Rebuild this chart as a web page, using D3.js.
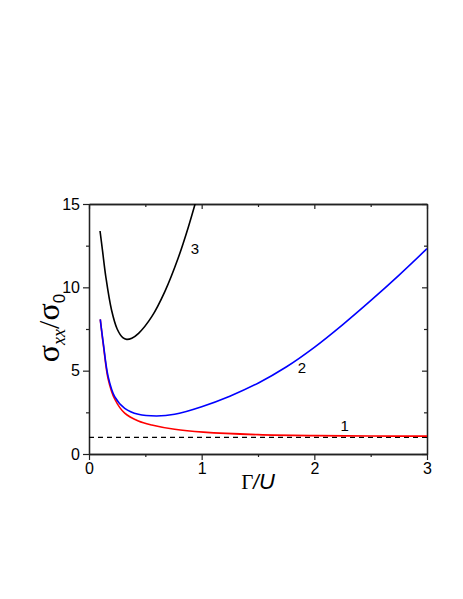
<!DOCTYPE html>
<html><head><meta charset="utf-8">
<script src="https://cdn.jsdelivr.net/npm/d3@7"></script>
<style>body{margin:0;background:#fff}</style>
</head><body>
<svg id="c" width="463" height="599"></svg>
<script>
const xTicks = [0, 1, 2, 3];
const yTicks = [0, 5, 10, 15];
const xMinor = [0.5, 1.5, 2.5];
const yMinor = [2.5, 7.5, 12.5];

const curve1X = [0.1, 0.13, 0.17, 0.228, 0.317, 0.438, 0.557, 0.76, 1.015, 1.5, 2.02, 2.5, 3.0];
const curve1Y = [8.08, 6.4, 4.5, 3.3, 2.45, 1.98, 1.74, 1.48, 1.31, 1.16, 1.10, 1.08, 1.07];

const curve2X = [0.1, 0.127, 0.17, 0.228, 0.317, 0.438, 0.6, 0.76, 1.0, 1.25, 1.5, 1.75, 2.0, 2.25, 2.5, 2.75, 3.0];
const curve2Y = [8.08, 6.64, 4.64, 3.44, 2.74, 2.38, 2.28, 2.38, 2.84, 3.47, 4.25, 5.22, 6.4, 7.75, 9.2, 10.72, 12.32];

const curve3X = [0.098, 0.12, 0.15, 0.2, 0.25, 0.3, 0.335, 0.38, 0.44, 0.557, 0.674, 0.79, 0.88, 0.95];
const curve3Y = [13.38, 12.2, 10.6, 8.64, 7.5, 6.98, 6.88, 6.95, 7.24, 8.24, 9.76, 11.73, 13.58, 15.2];

const refX = [0, 3];
const refY = [1, 1];

const labelText = ["1", "2", "3"];
const labelX = [2.27, 1.89, 0.94];
const labelY = [1.64, 5.1, 12.25];

const svg = d3.select("#c");
const L = 89, R = 427, T = 204, B = 454;
const x = d3.scaleLinear().domain([0, 3]).range([L, R]);
const y = d3.scaleLinear().domain([0, 15]).range([B, T]);

const axisColor = "#222";
const font = "'Liberation Sans', Arial, sans-serif";
const serif = "'Liberation Serif', 'Times New Roman', serif";

svg.append("defs").append("clipPath").attr("id", "clip")
  .append("rect").attr("x", L).attr("y", T).attr("width", R - L).attr("height", B - T);

function styleAxis(g) {
  g.select(".domain").attr("stroke", axisColor).attr("stroke-width", 1.3);
  g.selectAll(".tick line").attr("stroke", axisColor).attr("stroke-width", 1.2);
  g.selectAll(".tick text").attr("font-family", font).attr("font-size", 16).attr("fill", "#000");
}
svg.append("g").attr("transform", `translate(0,${B})`)
  .call(d3.axisBottom(x).tickValues(xTicks).tickFormat(d3.format("d")).tickSizeOuter(0).tickSizeInner(6).tickPadding(3)).call(styleAxis);
svg.append("g").attr("transform", `translate(0,${B})`)
  .call(d3.axisBottom(x).tickValues(xMinor).tickFormat("").tickSizeOuter(0).tickSizeInner(3)).call(styleAxis);
svg.append("g").attr("transform", `translate(${L},0)`)
  .call(d3.axisLeft(y).tickValues(yTicks).tickFormat(d3.format("d")).tickSizeOuter(0).tickSizeInner(6).tickPadding(3)).call(styleAxis);
svg.append("g").attr("transform", `translate(${L},0)`)
  .call(d3.axisLeft(y).tickValues(yMinor).tickFormat("").tickSizeOuter(0).tickSizeInner(3)).call(styleAxis);
svg.append("g").attr("transform", `translate(0,${T})`)
  .call(d3.axisTop(x).tickValues(xTicks).tickFormat("").tickSizeOuter(0).tickSizeInner(-5)).call(styleAxis);
svg.append("g").attr("transform", `translate(0,${T})`)
  .call(d3.axisTop(x).tickValues(xMinor).tickFormat("").tickSizeOuter(0).tickSizeInner(-3)).call(styleAxis);
svg.append("g").attr("transform", `translate(${R},0)`)
  .call(d3.axisRight(y).tickValues(yTicks).tickFormat("").tickSizeOuter(0).tickSizeInner(-5)).call(styleAxis);
svg.append("g").attr("transform", `translate(${R},0)`)
  .call(d3.axisRight(y).tickValues(yMinor).tickFormat("").tickSizeOuter(0).tickSizeInner(-3)).call(styleAxis);

const line = d3.line().x(d => x(d[0])).y(d => y(d[1])).curve(d3.curveCatmullRom.alpha(0.5));
const plot = svg.append("g").attr("clip-path", "url(#clip)");

plot.append("path").datum(d3.zip(refX, refY)).attr("d", d3.line().x(d => x(d[0])).y(d => y(d[1])))
  .attr("fill", "none").attr("stroke", "#000").attr("stroke-width", 1.3).attr("stroke-dasharray", "5,4");
plot.append("path").datum(d3.zip(curve1X, curve1Y)).attr("d", line)
  .attr("fill", "none").attr("stroke", "#ff0000").attr("stroke-width", 1.6);
plot.append("path").datum(d3.zip(curve2X, curve2Y)).attr("d", line)
  .attr("fill", "none").attr("stroke", "#0000ff").attr("stroke-width", 1.6);
plot.append("path").datum(d3.zip(curve3X, curve3Y)).attr("d", line)
  .attr("fill", "none").attr("stroke", "#000").attr("stroke-width", 1.6);

svg.selectAll("text.lab").data(labelText).enter().append("text").attr("class", "lab")
  .attr("x", (d, i) => x(labelX[i])).attr("y", (d, i) => y(labelY[i]))
  .attr("text-anchor", "middle").attr("dominant-baseline", "middle")
  .attr("font-family", font).attr("font-size", 15).text(d => d);

// x-axis title: Γ/U
const xt = svg.append("text").attr("x", 258).attr("y", 489).attr("text-anchor", "middle");
xt.append("tspan").attr("font-family", serif).attr("font-size", 21).text("Γ");
xt.append("tspan").attr("font-family", font).attr("font-size", 20).attr("font-style", "italic").text("/");
xt.append("tspan").attr("font-family", font).attr("font-size", 22).attr("font-style", "italic").text("U");

// y-axis title: σ_xx/σ_0
const yt = svg.append("text").attr("transform", "translate(59,328) rotate(-90)").attr("text-anchor", "middle");
yt.append("tspan").attr("font-family", serif).attr("font-size", 32).text("σ");
yt.append("tspan").attr("font-family", serif).attr("font-style", "italic").attr("font-size", 18).attr("dy", 6).text("xx");
yt.append("tspan").attr("font-family", serif).attr("font-size", 30).attr("dy", -6).text("/");
yt.append("tspan").attr("font-family", serif).attr("font-size", 32).text("σ");
yt.append("tspan").attr("font-family", font).attr("font-size", 17).attr("dy", 6).text("0");
</script>
</body></html>
